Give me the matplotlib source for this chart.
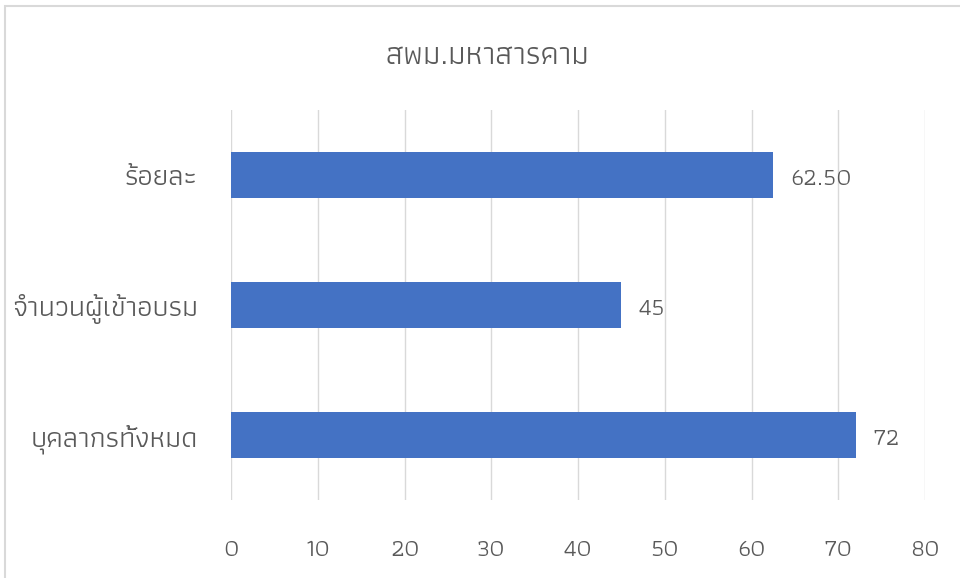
import matplotlib
matplotlib.use('Agg')
import matplotlib.pyplot as plt
from matplotlib.patches import Rectangle

categories = ['บุคลากรทั้งหมด', 'จำนวนผู้เข้าอบรม', 'ร้อยละ']
values = [72, 45, 62.5]
value_labels = ['72', '45', '62.50']
x_ticks = [0, 10, 20, 30, 40, 50, 60, 70, 80]
title = 'สพม.มหาสารคาม'

plt.rcParams['font.family'] = ['Athiti', 'DejaVu Sans']
text_color = '#595959'

fig = plt.figure(figsize=(9.6, 5.78), dpi=100)
ax = fig.add_axes([231 / 960, 1 - 500 / 578, 694 / 960, 390 / 578])

ypos = list(range(len(categories)))
ax.barh(ypos, values, height=0.35, color='#4472C4', zorder=3)
for y, v, lab in zip(ypos, values, value_labels):
    ax.annotate(lab, (v, y), xytext=(12, -3), textcoords='offset points',
                va='center', ha='left', fontsize=18, color=text_color)

ax.set_xlim(0, 80)
ax.set_ylim(-0.5, 2.5)
ax.set_xticks(x_ticks)
ax.set_yticks(ypos)
ax.set_yticklabels(categories)
ax.tick_params(axis='x', length=0, pad=28, labelsize=18, labelcolor=text_color)
ax.tick_params(axis='y', length=0, pad=24, labelsize=21, labelcolor=text_color)
for lbl in ax.get_yticklabels():
    lbl.set_y(lbl.get_position()[1])
ax.grid(axis='x', color='#d9d9d9', linewidth=1, zorder=0)
for s in ax.spines.values():
    s.set_visible(False)

fig.text(487 / 960, 1 - 57 / 578, title, ha='center', va='center',
         fontsize=23, color=text_color)

# chart border (cut at right and bottom in the reference)
fig.patches.append(Rectangle((5 / 960, -0.1), 1.2, 1 - 6 / 578 + 0.1,
                             transform=fig.transFigure, fill=False,
                             edgecolor='#d9d9d9', linewidth=1.5))

fig.savefig('out.png')
